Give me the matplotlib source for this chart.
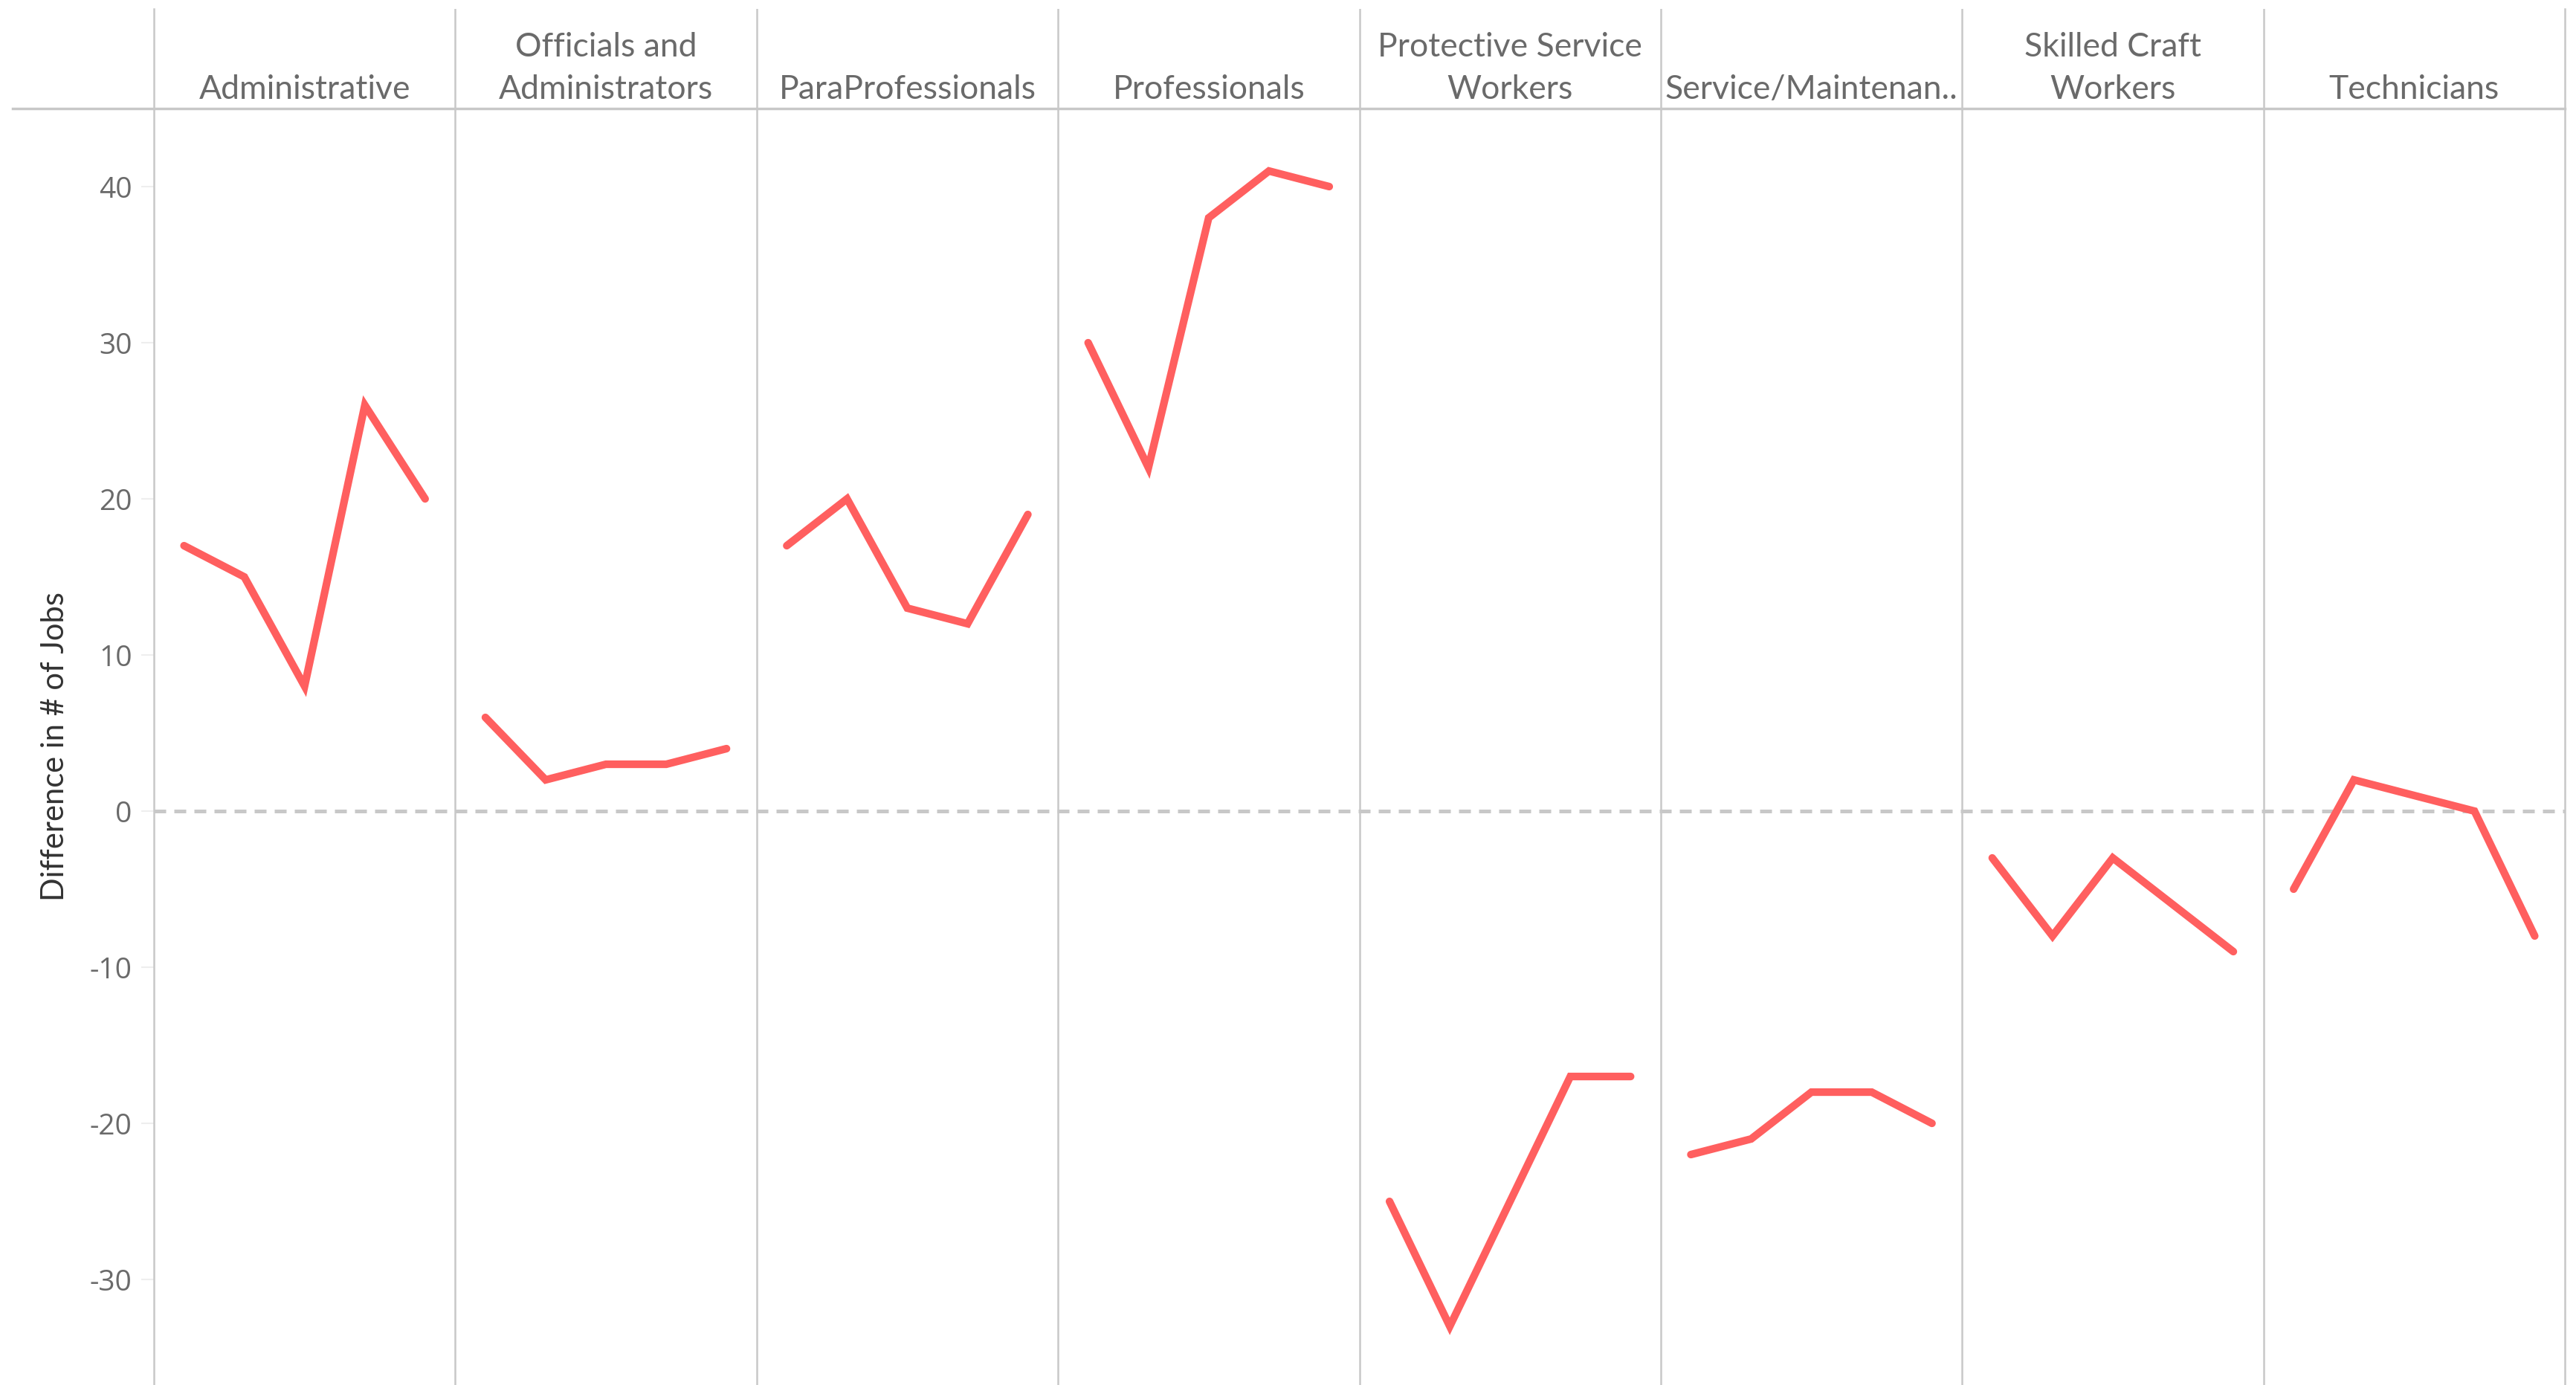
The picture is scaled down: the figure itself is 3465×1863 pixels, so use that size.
import matplotlib
matplotlib.use("agg")
import matplotlib.pyplot as plt
from matplotlib.lines import Line2D
import numpy as np

# Categories (column headers) and yearly differences per category
categories = [
    "Administrative",
    "Officials and\nAdministrators",
    "ParaProfessionals",
    "Professionals",
    "Protective Service\nWorkers",
    "Service/Maintenan..",
    "Skilled Craft\nWorkers",
    "Technicians",
]
administrative = [17, 15, 8, 26, 20]
officials = [6, 2, 3, 3, 4]
paraprofessionals = [17, 20, 13, 12, 19]
professionals = [30, 22, 38, 41, 40]
protective = [-25, -33, -25, -17, -17]
service = [-22, -21, -18, -18, -20]
skilled_craft = [-3, -8, -3, -6, -9]
technicians = [-5, 2, 1, 0, -8]
series = [administrative, officials, paraprofessionals, professionals,
          protective, service, skilled_craft, technicians]
yticks = [-30, -20, -10, 0, 10, 20, 30, 40]

W, H = 3465, 1863
fig = plt.figure(figsize=(W / 100, H / 100), dpi=100)
plt.rcParams["font.family"] = ["Lato", "DejaVu Sans"]

grid_c = "#c8c8c8"
text_c = "#6a6a6a"
line_c = "#ff5f5f"

left, right = 207 / W, 3450 / W
top_main = 146 / H
ax = fig.add_axes([left, 0, right - left, 1 - top_main])
hx = fig.add_axes([left, 1 - 146 / H, right - left, (146 - 12) / H], sharex=ax)

n = len(series)
npts = len(series[0])
for i, vals in enumerate(series):
    x = i * npts + np.arange(npts)
    ax.plot(x, vals, color=line_c, lw=7.4, solid_joinstyle="miter",
            solid_capstyle="round", zorder=3)

ax.set_xlim(-0.5, n * npts - 0.5)
ax.set_ylim(-36.76, 45.0)
ax.axhline(0, color=grid_c, lw=3.6, ls=(0, (3.2, 2.2)), zorder=2)

for a in (ax, hx):
    for i in range(1, n):
        a.axvline(i * npts - 0.5, color=grid_c, lw=1.8, zorder=1)
    for s in ("top", "bottom"):
        a.spines[s].set_visible(False)
    for s in ("left", "right"):
        a.spines[s].set_color(grid_c)
        a.spines[s].set_linewidth(1.8)
    a.set_xticks([])

hx.set_ylim(0, 1)
hx.set_yticks([])
for i, name in enumerate(categories):
    hx.text(i * npts + (npts - 1) / 2, 0.04, name, ha="center", va="bottom",
            fontsize=32, color=text_c, linespacing=1.48)

ax.set_yticks(yticks)
ax.set_yticklabels([str(t) for t in yticks], family=["Open Sans", "DejaVu Sans"])
ax.tick_params(axis="y", length=12, width=1.5, color="#eeeeee",
               labelsize=28, labelcolor=text_c, pad=9)
ax.set_ylabel("Difference in # of Jobs", fontsize=30, color="#333333",
              labelpad=20)

# Header separator
fig.add_artist(Line2D([17 / W, right], [1 - 146 / H, 1 - 146 / H],
                      transform=fig.transFigure, color=grid_c, lw=2.5))

fig.savefig("out.png", dpi=100)
